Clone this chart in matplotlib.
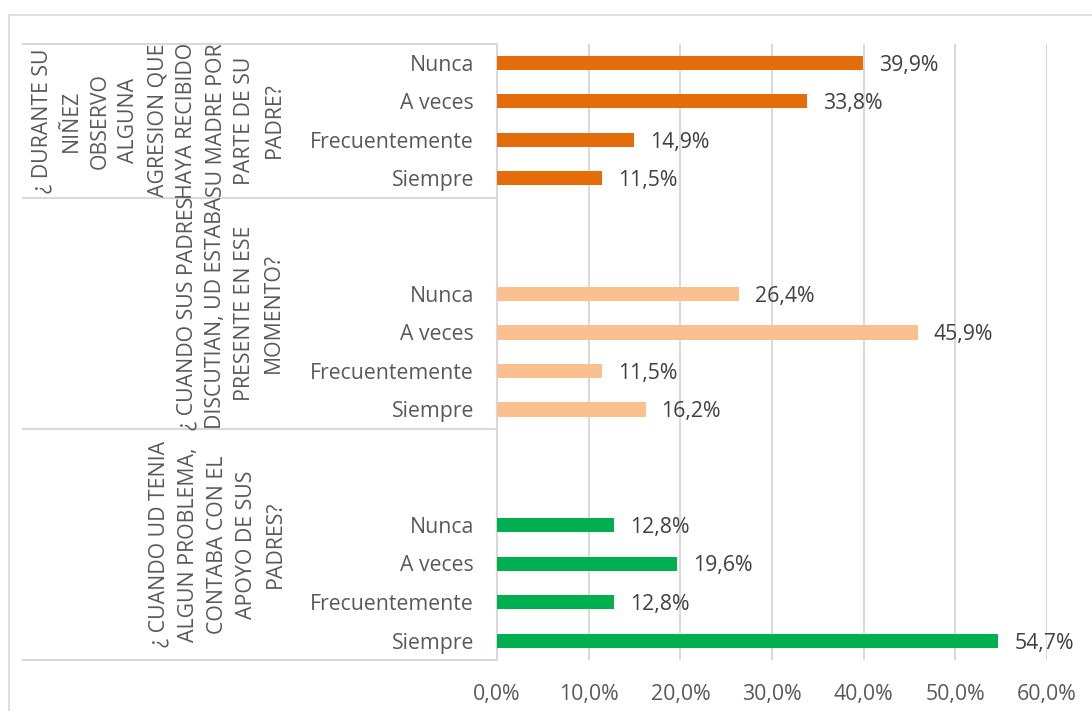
import matplotlib
matplotlib.use("Agg")
import matplotlib.pyplot as plt
from matplotlib.lines import Line2D
import matplotlib.transforms as mtransforms

plt.rcParams['font.family'] = ['Open Sans', 'DejaVu Sans']

# ---- data ----
group_titles = [
    "¿ DURANTE SU\nNIÑEZ\nOBSERVO\nALGUNA\nAGRESION QUE\nHAYA RECIBIDO\nSU MADRE POR\nPARTE DE SU\nPADRE?",
    "¿ CUANDO SUS PADRES\nDISCUTIAN, UD ESTABA\nPRESENTE EN ESE\nMOMENTO?",
    "¿ CUANDO UD TENIA\nALGUN PROBLEMA,\nCONTABA CON EL\nAPOYO DE SUS\nPADRES?",
]
categories = ["Nunca", "A veces", "Frecuentemente", "Siempre"]
values_g1 = [39.9, 33.8, 14.9, 11.5]
values_g2 = [26.4, 45.9, 11.5, 16.2]
values_g3 = [12.8, 19.6, 12.8, 54.7]
all_values = [values_g1, values_g2, values_g3]
blank_slots = [0, 2, 2]
colors = ["#E46C0A", "#FAC090", "#00B050"]
xticks = [0, 10, 20, 30, 40, 50, 60]
xtick_labels = ["0,0%", "10,0%", "20,0%", "30,0%", "40,0%", "50,0%", "60,0%"]
group_title_x_px = [158, 230, 217]

W, H = 1092, 711
fig = plt.figure(figsize=(W / 100, H / 100), dpi=100)
ax_left, ax_right, ax_top, ax_bottom = 497, 1047, 43.5, 660
ax = fig.add_axes([ax_left / W, 1 - ax_bottom / H, (ax_right - ax_left) / W, (ax_bottom - ax_top) / H])

grid_c = "#D9D9D9"
text_c = "#595959"
label_c = "#404040"
fs = 15.3
dy = 0.06

slot = 0
boundaries = [-0.5]
group_centers = []
for gi, vals in enumerate(all_values):
    start = slot
    slot += blank_slots[gi]
    ys = []
    for ci, v in enumerate(vals):
        ys.append(slot)
        slot += 1
    ax.barh(ys, vals, height=0.37, color=colors[gi], zorder=3)
    for y, v, cat in zip(ys, vals, categories):
        ax.text(v + 1.75, y + dy, f"{v:.1f}%".replace(".", ","), va="center", ha="left",
                fontsize=fs, color=label_c, zorder=4)
        ax.text(-2.5, y + dy, cat, va="center", ha="right", fontsize=fs, color=text_c,
                transform=ax.transData, clip_on=False)
    boundaries.append(slot - 0.5)
    group_centers.append((start + slot - 1) / 2)

ax.set_xlim(0, 60)
ax.set_ylim(slot - 0.5, -0.5)
ax.set_xticks(xticks)
ax.set_xticklabels(xtick_labels, fontsize=fs, color=text_c)
ax.tick_params(axis="x", length=0, pad=17)
ax.set_yticks([])
ax.grid(axis="x", color=grid_c, linewidth=1.5, zorder=0)
for s in ["top", "right", "bottom"]:
    ax.spines[s].set_visible(False)
ax.spines["left"].set_color(grid_c)
ax.spines["left"].set_linewidth(1.5)

# category table lines
trans = mtransforms.blended_transform_factory(ax.transAxes, ax.transData)
x_table_left = (23 - ax_left) / (ax_right - ax_left)
for b in boundaries:
    ax.add_line(Line2D([x_table_left, 0], [b, b], transform=trans, color=grid_c,
                       linewidth=1.5, clip_on=False))

for gi, title in enumerate(group_titles):
    xa = (group_title_x_px[gi] - ax_left) / (ax_right - ax_left)
    ax.text(xa, group_centers[gi], title, rotation=90, ha="center", va="center",
            multialignment="center", fontsize=fs, color=text_c, transform=trans,
            linespacing=1.5, clip_on=False)

# outer chart border
fig.add_artist(Line2D([9 / W, 9 / W], [0, 1 - 15 / H], transform=fig.transFigure,
                      color=grid_c, linewidth=1.2))
fig.add_artist(Line2D([9 / W, 1], [1 - 15 / H, 1 - 15 / H], transform=fig.transFigure,
                      color=grid_c, linewidth=1.2))

fig.savefig("out.png", dpi=100)
